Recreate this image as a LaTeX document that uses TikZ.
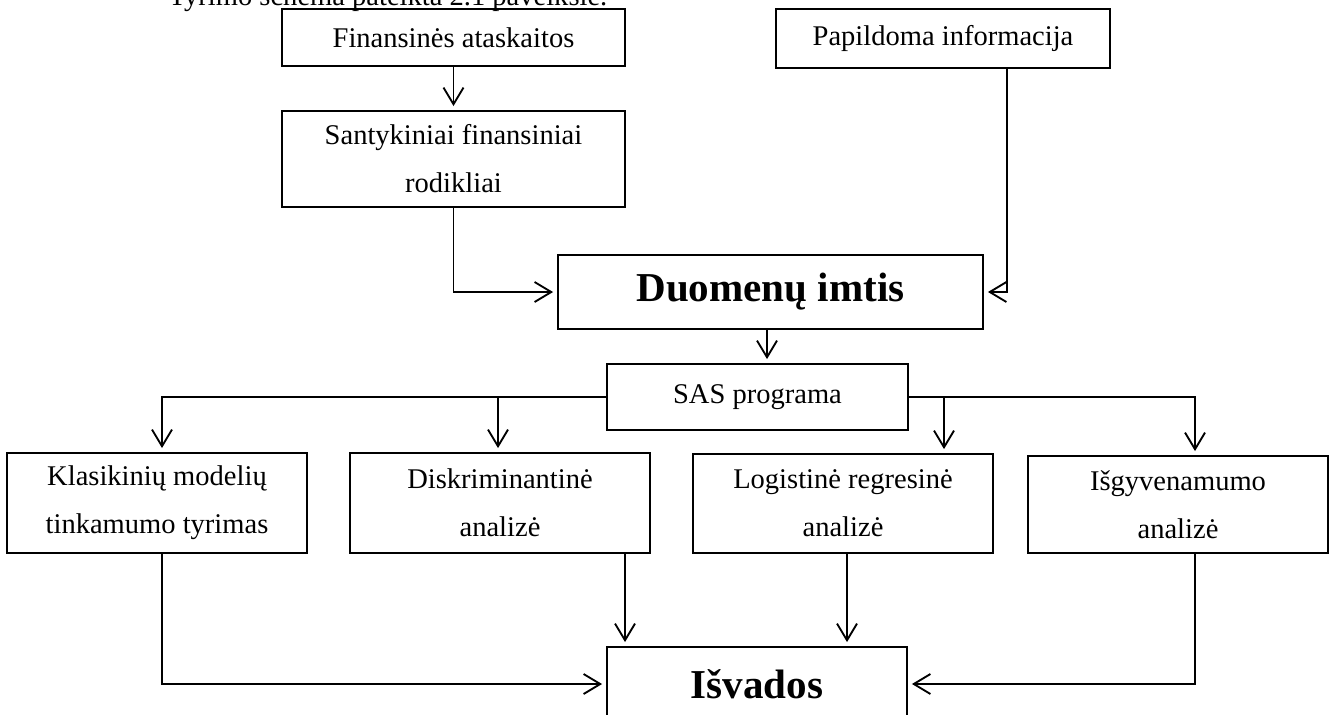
\documentclass[tikz,border=0pt]{standalone}
\usepackage{fontspec}
\setmainfont{Liberation Serif}
\usetikzlibrary{arrows.meta}
\begin{document}
\begin{tikzpicture}[x=0.75pt,y=-0.75pt,
  box/.style={draw, line width=1.4pt, inner sep=0pt, align=center, font=\fontsize{21.4}{36}\selectfont},
  bigbox/.style={box, font=\fontsize{30.8}{36}\selectfont\bfseries},
  arr/.style={line width=1.4pt, -{Straight Barb[length=12.5pt,width=15pt,line width=1.4pt]}, shorten >=3pt}]
\useasboundingbox (0,0) rectangle (1330,714);
\clip (0,0) rectangle (1330,714);
\node[font=\fontsize{21.4}{36}\selectfont, anchor=base, inner sep=0pt] (title) at (388,5) {Tyrimo schema pateikta 2.1 paveiksle.};
\node[box, minimum width=343*0.75pt, minimum height=57*0.75pt] (fin) at (453.5,37.5) {Finansinės ataskaitos};
\node[box, minimum width=343*0.75pt, minimum height=96*0.75pt] (san) at (453.5,159) {Santykiniai finansiniai\\rodikliai};
\node[box, minimum width=334*0.75pt, minimum height=59*0.75pt] (pap) at (943,38.5) {Papildoma informacija};
\node[bigbox, minimum width=425*0.75pt, minimum height=74*0.75pt] (duo) at (770.5,292) {Duomenų imtis};
\node[box, minimum width=301*0.75pt, minimum height=66*0.75pt] (sas) at (757.5,397) {SAS programa};
\node[box, minimum width=300*0.75pt, minimum height=100*0.75pt] (kla) at (157,503) {Klasikinių modelių\\tinkamumo tyrimas};
\node[box, minimum width=300*0.75pt, minimum height=100*0.75pt] (dis) at (500,503) {Diskriminantinė\\analizė};
\node[box, minimum width=300*0.75pt, minimum height=99*0.75pt] (log) at (843,503.5) {Logistinė regresinė\\analizė};
\node[box, minimum width=300*0.75pt, minimum height=97*0.75pt] (isg) at (1178,504.5) {Išgyvenamumo\\analizė};
\node[bigbox, minimum width=300*0.75pt, minimum height=74*0.75pt] (isv) at (757,684) {Išvados};
\coordinate (px) at (1007,0);
\coordinate (dsx) at (767,0);
\coordinate (kx) at (162,0);
\coordinate (dx) at (498,0);
\coordinate (lx) at (944,0);
\coordinate (ix) at (1195,0);
\coordinate (dbx) at (625,0);
\coordinate (lbx) at (847,0);
\draw[arr] (fin.south) -- (san.north);
\draw[arr] (san.south) |- (duo.west);
\draw[arr] (pap.south -| px) |- (duo.east);
\draw[arr] (duo.south -| dsx) -- (sas.north -| dsx);
\draw[arr] (sas.west) -| (kla.north -| kx);
\draw[arr] (sas.west -| dx) -- (dis.north -| dx);
\draw[arr] (sas.east) -| (isg.north -| ix);
\draw[arr] (sas.east -| lx) -- (log.north -| lx);
\draw[arr] (kla.south -| kx) |- (isv.west);
\draw[arr] (dis.south -| dbx) -- (isv.north -| dbx);
\draw[arr] (log.south -| lbx) -- (isv.north -| lbx);
\draw[arr] (isg.south -| ix) |- (isv.east);
\end{tikzpicture}
\end{document}
